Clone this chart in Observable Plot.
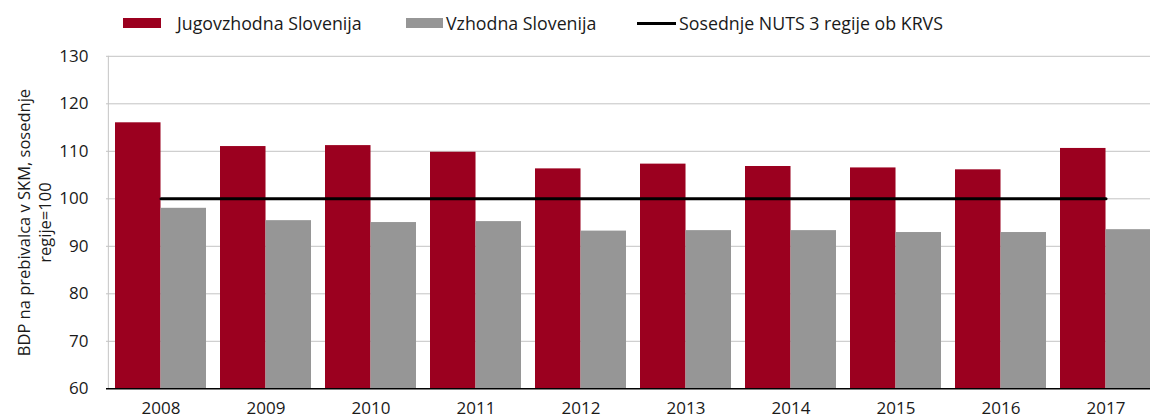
<!DOCTYPE html>
<html>
<head>
<meta charset="utf-8">
<script src="https://cdn.jsdelivr.net/npm/d3@7"></script>
<script src="https://cdn.jsdelivr.net/npm/@observablehq/plot@0.6"></script>
<style>
  html, body { margin: 0; padding: 0; overflow: hidden; background: #fff; }
  body { width: 1150px; height: 419px; font-family: "Open Sans", sans-serif; color: #1a1a1a; }
  #legend { position: relative; height: 40px; font-size: 17.8px; }
  .item { position: absolute; top: 0; height: 46px; display: flex; align-items: center; white-space: nowrap; }
  .sw { display: inline-block; }
  #chart { width: 1160px; }
  #chart svg { max-width: none !important; display: block; }
</style>
</head>
<body>
<div id="legend"></div>
<div id="chart"></div>
<script>
const years = ["2008","2009","2010","2011","2012","2013","2014","2015","2016","2017"];
const jugovzhodna = [116.0, 111.0, 111.2, 109.8, 106.3, 107.3, 106.8, 106.5, 106.1, 110.6];
const vzhodna = [98.0, 95.4, 95.0, 95.2, 93.2, 93.3, 93.3, 92.9, 92.9, 93.5];
const sosednje = [100, 100, 100, 100, 100, 100, 100, 100, 100, 100];
const yTicks = [60, 70, 80, 90, 100, 110, 120, 130];
const seriesNames = ["Jugovzhodna Slovenija", "Vzhodna Slovenija", "Sosednje NUTS 3 regije ob KRVS"];
const yLabel = "BDP na prebivalca v SKM, sosednje\nregije=100";

const RED = "#9b001f", GRAY = "#969696";

// legend
const legend = document.getElementById("legend");
const items = [
  {name: seriesNames[0], left: 123, sw: `<span class="sw" style="width:38px;height:10px;background:${RED};margin-right:16px"></span>`},
  {name: seriesNames[1], left: 406, sw: `<span class="sw" style="width:37px;height:10px;background:${GRAY};margin-right:3px"></span>`},
  {name: seriesNames[2], left: 637, sw: `<span class="sw" style="width:39px;height:3px;background:#000;margin-right:3px"></span>`}
];
for (const it of items) {
  const d = document.createElement("div");
  d.className = "item";
  d.style.left = it.left + "px";
  d.innerHTML = it.sw + `<span>${it.name}</span>`;
  legend.appendChild(d);
}

const data = years.map((year, i) => ({year, jvs: jugovzhodna[i], vs: vzhodna[i], ref: sosednje[i]}));

const W = 1160, ML = 106, MR = 1;
const PI = 0.136;
const step = (W - ML - MR) / years.length;
const half = step * (1 - PI) / 2;

const chart = Plot.plot({
  width: W,
  height: 379,
  marginLeft: ML,
  marginRight: MR,
  marginTop: 15.8,
  marginBottom: 30.7,
  style: {fontFamily: "Open Sans, sans-serif", fontSize: "17px", color: "#1a1a1a", background: "white", overflow: "visible", maxWidth: "none"},
  x: {type: "band", domain: years, paddingInner: PI, paddingOuter: PI / 2, label: null, tickSize: 0, tickPadding: 13.5},
  y: {domain: [60, 130], ticks: yTicks, label: null, tickSize: 0, tickPadding: 18},
  marks: [
    Plot.ruleY(yTicks.filter(v => v > 60), {stroke: "#c4c4c4", strokeWidth: 1}),
    Plot.ruleX([years[0]], {dx: -step / 2, stroke: "#c4c4c4", strokeWidth: 1}),
    Plot.barY(data, {x: "year", y1: 60, y2: "jvs", fill: RED, insetRight: half}),
    Plot.barY(data, {x: "year", y1: 60, y2: "vs", fill: GRAY, insetLeft: half}),
    Plot.ruleY([60], {stroke: "#000", strokeWidth: 1.5}),
    Plot.lineY(data, {x: "year", y: "ref", stroke: "#000", strokeWidth: 3}),
    Plot.text([yLabel], {frameAnchor: "left", rotate: -90, dx: -73, lineAnchor: "middle", textAnchor: "middle", fontSize: 16.5, lineHeight: 1.3, fill: "#1a1a1a"})
  ]
});
document.getElementById("chart").appendChild(chart);
</script>
</body>
</html>
